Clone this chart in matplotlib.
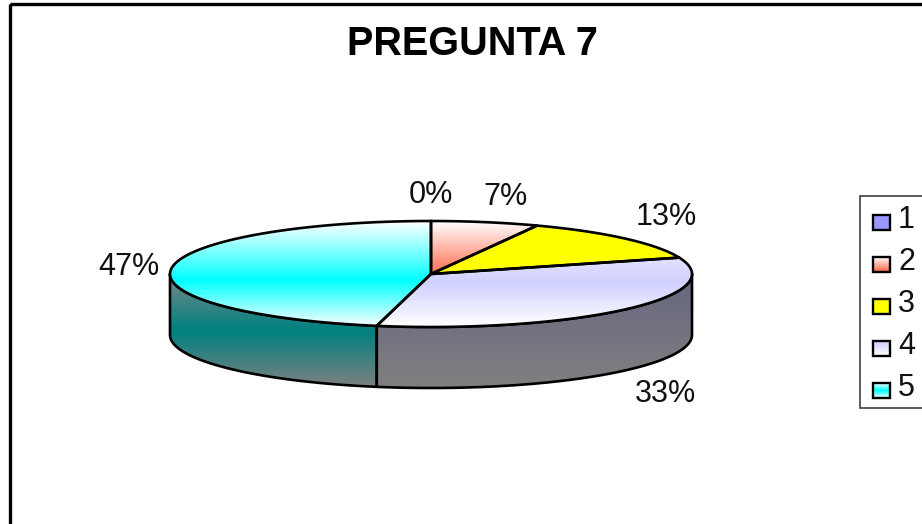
import numpy as np
import matplotlib
matplotlib.use("Agg")
import matplotlib.pyplot as plt
from matplotlib.colors import LinearSegmentedColormap
from matplotlib.patches import Polygon, Rectangle

plt.rcParams['font.family'] = ['Liberation Sans', 'DejaVu Sans']

title = "PREGUNTA 7"
categories = ["1", "2", "3", "4", "5"]
answers = [0, 1, 2, 5, 7]

W, H = 922, 524
# pie geometry, in pixels
cx, cy, rx, ry, depth = 431, 274, 261, 53, 61

white = "#ffffff"
gray = "#808080"
top_grads = [
    [white, "#9999ff", white],
    [white, "#ff6e50", white],
    ["#ffff00", "#ffff00"],
    [(0, white), (0.58, "#d0d0ff"), (1, white)],
    [(0, white), (0.56, "#00ffff"), (1, white)],
]
side_grads = {
    3: ["#666680", gray],
    4: ["#7a8888", "#008080", gray],
}
swatch_grads = [
    ["#9999ff", "#9999ff"],
    [white, "#ff6040"],
    ["#ffff00", "#ffff00"],
    ["#ccccff", white],
    [white, "#00ffff", white],
]
label_pos = [(431, 195), (505, 197), (666, 217), (665, 394), (129, 267)]

fig = plt.figure(figsize=(W / 100, H / 100), dpi=100)
ax = fig.add_axes([0, 0, 1, 1])


def gradient(patch, colors, y0, y1, x0, x1, z):
    # vertical gradient clipped to a patch
    ax.add_patch(patch)
    cmap = LinearSegmentedColormap.from_list("g", colors)
    grad = np.linspace(0, 1, 256).reshape(-1, 1)
    im = ax.imshow(grad, cmap=cmap, vmin=0, vmax=1, aspect="auto", origin="upper",
                   extent=(x0, x1, y1, y0), zorder=z, interpolation="bilinear")
    im.set_clip_path(patch)


def rim(a0, a1, n=120):
    t = np.radians(np.linspace(a0, a1, n))
    return cx + rx * np.sin(t), cy - ry * np.cos(t)


# angles run clockwise from 12 o'clock
shares = np.array(answers) / sum(answers)
edges = np.concatenate([[0], np.cumsum(shares) * 360])

# front wall
for i in range(len(answers)):
    a0, a1 = max(edges[i], 90), min(edges[i + 1], 270)
    if a1 <= a0:
        continue
    x, y = rim(a0, a1)
    pts = np.column_stack([np.r_[x, x[::-1]], np.r_[y, y[::-1] + depth]])
    fill = Polygon(pts, closed=True, fc="none", ec="none", zorder=1)
    gradient(fill, side_grads[i], cy, cy + ry + depth, cx - rx - 2, cx + rx + 2, 1)
    ax.add_patch(Polygon(pts, closed=True, fc="none", ec="black", lw=1.9, zorder=2,
                         joinstyle="round"))

# top face
for i in range(len(answers)):
    if answers[i] == 0:
        continue
    x, y = rim(edges[i], edges[i + 1])
    pts = np.column_stack([np.r_[cx, x], np.r_[cy, y]])
    fill = Polygon(pts, closed=True, fc="none", ec="none", zorder=3)
    gradient(fill, top_grads[i], cy - ry, cy + ry, cx - rx - 2, cx + rx + 2, 3)
    ax.add_patch(Polygon(pts, closed=True, fc="none", ec="black", lw=1.9, zorder=4,
                         joinstyle="round"))

# percent labels
for v, pos in zip(shares, label_pos):
    ax.text(pos[0], pos[1], f"{v:.0%}", fontsize=22, ha="center", va="center",
            color="#111111", zorder=6)

# outer frame runs off the right and bottom of the picture
ax.add_patch(Rectangle((10, 4), W + 20, H + 20, fc="none", ec="black", lw=2.4, zorder=0.5))
ax.text(472, 44, title, fontsize=28.5, fontweight="bold", ha="center", va="center")

# legend
ax.add_patch(Rectangle((860, 196), 80, 212, fc="white", ec="#404040", lw=1.2, zorder=5))
for i, lab in enumerate(categories):
    yc = 222 + i * 42
    sw = Rectangle((873, yc - 7), 17, 15, fc="none", ec="none", zorder=6)
    gradient(sw, swatch_grads[i], yc - 7, yc + 8, 873, 890, 6)
    ax.add_patch(Rectangle((873, yc - 7), 17, 15, fc="none", ec="black", lw=1.7, zorder=7))
    ax.text(898, yc - 2, lab, fontsize=22, ha="left", va="center", color="#111111", zorder=7)

ax.set_xlim(0, W)
ax.set_ylim(H, 0)
ax.axis("off")
fig.savefig("out.png", dpi=100)
